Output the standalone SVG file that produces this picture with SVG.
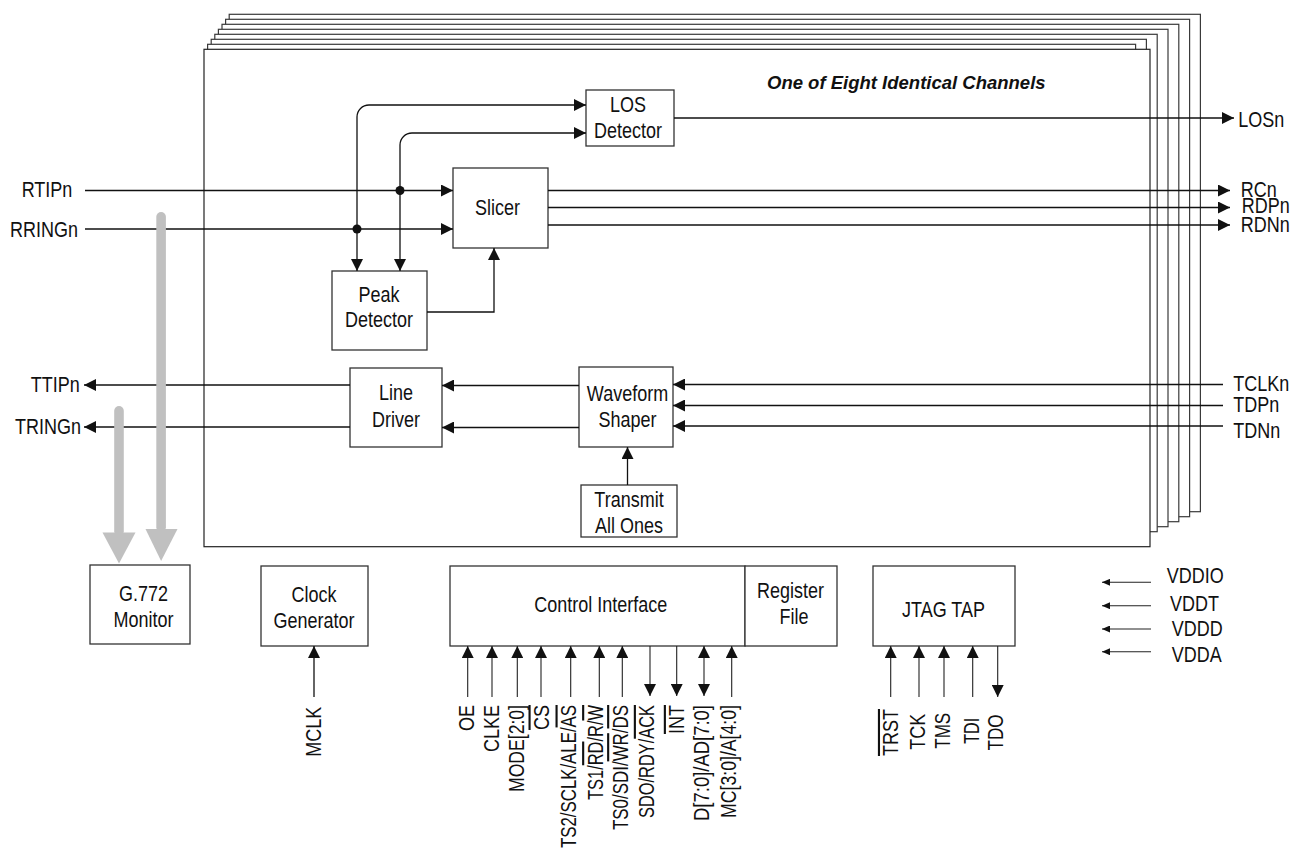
<svg xmlns="http://www.w3.org/2000/svg" width="1299" height="850" viewBox="0 0 1299 850">
<defs>
<style>
.ch{fill:#fff;stroke:#3a3a3a;stroke-width:1.2}
.box{fill:#fff;stroke:#333;stroke-width:1.3}
.w{fill:none;stroke:#111;stroke-width:1.3}
.w2{fill:none;stroke:#222;stroke-width:1.1}
.t{font-family:"Liberation Sans",Arial,Helvetica,sans-serif;font-size:18px;fill:#111}
.m{text-anchor:middle}
.e{text-anchor:end}
.ttl{font-family:"Liberation Sans",Arial,Helvetica,sans-serif;font-size:18.5px;font-weight:bold;font-style:italic;fill:#111}
.bar{fill:#c0c0c0}
.dot{fill:#111}
.ol{text-decoration:overline}
</style>
<marker id="ah" markerUnits="userSpaceOnUse" markerWidth="12" markerHeight="12" viewBox="0 0 12 12" refX="12" refY="6" orient="auto-start-reverse">
<path d="M0,0 L12,6 L0,12 z" fill="#111"/>
</marker>
<marker id="sa" markerUnits="userSpaceOnUse" markerWidth="8" markerHeight="7" viewBox="0 0 8 7" refX="8" refY="3.5" orient="auto">
<path d="M0,0 L8,3.5 L0,7 z" fill="#111"/>
</marker>
</defs>
<rect width="1299" height="850" fill="#fff"/>

<g id="channel-stack">
<rect class="ch" x="229.2" y="14.3" width="971.2" height="497.4"/>
<rect class="ch" x="225.6" y="19.3" width="964" height="497.4"/>
<rect class="ch" x="222" y="24.3" width="956.8" height="497.4"/>
<rect class="ch" x="218.4" y="29.3" width="949.6" height="497.4"/>
<rect class="ch" x="214.8" y="34.3" width="942.4" height="497.4"/>
<rect class="ch" x="211.2" y="39.3" width="935.2" height="497.4"/>
<rect class="ch" x="207.6" y="44.3" width="928" height="497.4"/>
<rect class="ch" x="204" y="49.3" width="946" height="497.4" style="stroke:#222"/>
<text class="ttl" x="767" y="89">One of Eight Identical Channels</text>
</g>

<g id="los-detector">
<rect class="box" x="586" y="90" width="88" height="56"/>
<text class="t m" transform="translate(628,111.7) scale(1,1.18)">LOS</text>
<text class="t m" transform="translate(628,138.3) scale(1,1.18)">Detector</text>
</g>

<g id="slicer">
<rect class="box" x="453" y="168" width="95" height="80"/>
<text class="t m" transform="translate(497.5,215) scale(1,1.18)">Slicer</text>
</g>

<g id="peak-detector">
<rect class="box" x="332" y="271" width="95" height="79"/>
<text class="t m" transform="translate(379,301.7) scale(1,1.18)">Peak</text>
<text class="t m" transform="translate(379,326.7) scale(1,1.18)">Detector</text>
</g>

<g id="line-driver">
<rect class="box" x="350" y="368" width="92" height="79"/>
<text class="t m" transform="translate(396,400) scale(1,1.18)">Line</text>
<text class="t m" transform="translate(396,427.3) scale(1,1.18)">Driver</text>
</g>

<g id="waveform-shaper">
<rect class="box" x="579" y="367" width="94" height="80"/>
<text class="t m" transform="translate(627.5,401) scale(1,1.18)">Waveform</text>
<text class="t m" transform="translate(627.5,427.3) scale(1,1.18)">Shaper</text>
</g>

<g id="transmit-all-ones">
<rect class="box" x="581" y="485" width="96" height="52"/>
<text class="t m" transform="translate(629,506.7) scale(1,1.18)">Transmit</text>
<text class="t m" transform="translate(629,532.7) scale(1,1.18)">All Ones</text>
</g>

<g id="g772-monitor">
<rect class="box" x="90" y="565" width="100" height="79"/>
<text class="t m" transform="translate(143.5,600.7) scale(1,1.18)">G.772</text>
<text class="t m" transform="translate(143.5,627.3) scale(1,1.18)">Monitor</text>
</g>

<g id="clock-generator">
<rect class="box" x="261" y="566" width="107" height="80"/>
<text class="t m" transform="translate(314,602.3) scale(1,1.18)">Clock</text>
<text class="t m" transform="translate(314,628.3) scale(1,1.18)">Generator</text>
</g>

<g id="control-interface">
<rect class="box" x="450" y="566" width="295" height="80"/>
<text class="t m" transform="translate(600.8,612) scale(1,1.18)">Control Interface</text>
</g>

<g id="register-file">
<rect class="box" x="745" y="566" width="92" height="80"/>
<text class="t m" transform="translate(790.5,598) scale(1,1.18)">Register</text>
<text class="t m" transform="translate(794,624) scale(1,1.18)">File</text>
</g>

<g id="jtag-tap">
<rect class="box" x="873" y="566" width="142" height="80"/>
<text class="t m" transform="translate(943.5,617.3) scale(1,1.18)">JTAG TAP</text>
</g>

<g id="connectors">
<path class="w" d="M85,190.5 H453" marker-end="url(#ah)"/>
<path class="w" d="M85,229 H453" marker-end="url(#ah)"/>
<path class="w" d="M357,271 V117 A12,12 0 0 1 369,105 H586" marker-start="url(#ah)" marker-end="url(#ah)"/>
<path class="w" d="M400,271 V145 A12,12 0 0 1 412,133 H586" marker-start="url(#ah)" marker-end="url(#ah)"/>
<circle class="dot" cx="400" cy="190.5" r="4.5"/>
<circle class="dot" cx="357" cy="229" r="4.5"/>
<path class="w" d="M427,312 H494 V248" marker-end="url(#ah)"/>
<path class="w" d="M674,118 H1234" marker-end="url(#ah)"/>
<path class="w" d="M548,190.5 H1230" marker-end="url(#ah)"/>
<path class="w" d="M548,207.5 H1230" marker-end="url(#ah)"/>
<path class="w" d="M548,225 H1230" marker-end="url(#ah)"/>
<path class="w" d="M1223,384.5 H673" marker-end="url(#ah)"/>
<path class="w" d="M1223,405.5 H673" marker-end="url(#ah)"/>
<path class="w" d="M1223,426 H673" marker-end="url(#ah)"/>
<path class="w" d="M579,385.5 H442" marker-end="url(#ah)"/>
<path class="w" d="M579,427.5 H442" marker-end="url(#ah)"/>
<path class="w" d="M350,385 H84" marker-end="url(#ah)"/>
<path class="w" d="M350,427 H84" marker-end="url(#ah)"/>
<path class="w" d="M627.5,485 V447" marker-end="url(#ah)"/>
<path class="w" d="M314,697 V646" marker-end="url(#ah)"/>
<path class="w2" d="M467.7,697 V646" marker-end="url(#ah)"/>
<path class="w2" d="M492,697 V646" marker-end="url(#ah)"/>
<path class="w2" d="M517.3,697 V646" marker-end="url(#ah)"/>
<path class="w2" d="M541,697 V646" marker-end="url(#ah)"/>
<path class="w2" d="M570.7,697 V646" marker-end="url(#ah)"/>
<path class="w2" d="M599.3,697 V646" marker-end="url(#ah)"/>
<path class="w2" d="M622.3,697 V646" marker-end="url(#ah)"/>
<path class="w2" d="M650,646 V696" marker-end="url(#ah)"/>
<path class="w2" d="M676.7,646 V696" marker-end="url(#ah)"/>
<path class="w2" d="M704,696 V646" marker-start="url(#ah)" marker-end="url(#ah)"/>
<path class="w2" d="M731.7,697 V646" marker-end="url(#ah)"/>
<path class="w2" d="M890.7,697 V646" marker-end="url(#ah)"/>
<path class="w2" d="M919,697 V646" marker-end="url(#ah)"/>
<path class="w2" d="M944,697 V646" marker-end="url(#ah)"/>
<path class="w2" d="M972.7,697 V646" marker-end="url(#ah)"/>
<path class="w2" d="M997.7,646 V697" marker-end="url(#ah)"/>
<path class="w2" d="M1151,582.3 H1102" marker-end="url(#sa)"/>
<path class="w2" d="M1151,605.7 H1102" marker-end="url(#sa)"/>
<path class="w2" d="M1151,629 H1102" marker-end="url(#sa)"/>
<path class="w2" d="M1151,651.7 H1102" marker-end="url(#sa)"/>
</g>

<g id="monitor-bars">
<rect class="bar" x="156.3" y="212" width="9.6" height="320" rx="4.8"/>
<path class="bar" d="M145.5,529 H177.5 L161.1,561 z"/>
<rect class="bar" x="114.2" y="406" width="9.6" height="130" rx="4.8"/>
<path class="bar" d="M102.5,532.5 H135.5 L119,563.5 z"/>
</g>

<g id="port-labels">
<text class="t" transform="translate(21.7,196.7) scale(1,1.18)">RTIPn</text>
<text class="t" transform="translate(10,236.7) scale(1,1.18)">RRINGn</text>
<text class="t" transform="translate(30.7,391.7) scale(1,1.18)">TTIPn</text>
<text class="t" transform="translate(15,434) scale(1,1.18)">TRINGn</text>
<text class="t" transform="translate(1238.3,127.3) scale(1,1.18)">LOSn</text>
<text class="t" transform="translate(1240.7,197.3) scale(1,1.18)">RCn</text>
<text class="t" transform="translate(1241.7,213.3) scale(1,1.18)">RDPn</text>
<text class="t" transform="translate(1240.7,231.7) scale(1,1.18)">RDNn</text>
<text class="t" transform="translate(1233.3,390.7) scale(1,1.18)">TCLKn</text>
<text class="t" transform="translate(1233.3,411.7) scale(1,1.18)">TDPn</text>
<text class="t" transform="translate(1233.3,437.7) scale(1,1.18)">TDNn</text>
<text class="t" transform="translate(1166.7,583.3) scale(1,1.18)">VDDIO</text>
<text class="t" transform="translate(1170,610.7) scale(1,1.18)">VDDT</text>
<text class="t" transform="translate(1171.7,635.7) scale(1,1.18)">VDDD</text>
<text class="t" transform="translate(1171.7,661.7) scale(1,1.18)">VDDA</text>
<text class="t e" transform="translate(321,706.7) rotate(-90) scale(1,1.18)">MCLK</text>
<text class="t e" transform="translate(474.3,705) rotate(-90) scale(1,1.18)">OE</text>
<text class="t e" transform="translate(499.3,705) rotate(-90) scale(1,1.18)">CLKE</text>
<text class="t e" transform="translate(524.3,705) rotate(-90) scale(1,1.18)" textLength="87" lengthAdjust="spacingAndGlyphs">MODE[2:0]</text>
<text class="t e" transform="translate(549,705) rotate(-90) scale(1,1.18)"><tspan class="ol">CS</tspan></text>
<text class="t e" transform="translate(576,705) rotate(-90) scale(1,1.18)" textLength="143" lengthAdjust="spacingAndGlyphs">TS2/SCLK/ALE/<tspan class="ol">AS</tspan></text>
<text class="t e" transform="translate(602.6,705) rotate(-90) scale(1,1.18)" textLength="95" lengthAdjust="spacingAndGlyphs">TS1/<tspan class="ol">RD</tspan>/R/<tspan class="ol">W</tspan></text>
<text class="t e" transform="translate(627.6,705) rotate(-90) scale(1,1.18)" textLength="125" lengthAdjust="spacingAndGlyphs">TS0/SDI/<tspan class="ol">WR</tspan>/<tspan class="ol">DS</tspan></text>
<text class="t e" transform="translate(654.3,705) rotate(-90) scale(1,1.18)" textLength="113" lengthAdjust="spacingAndGlyphs">SDO/RDY/<tspan class="ol">ACK</tspan></text>
<text class="t e" transform="translate(684.3,705) rotate(-90) scale(1,1.18)"><tspan class="ol">INT</tspan></text>
<text class="t e" transform="translate(709.3,705) rotate(-90) scale(1,1.18)" textLength="116" lengthAdjust="spacingAndGlyphs">D[7:0]/AD[7:0]</text>
<text class="t e" transform="translate(736,705) rotate(-90) scale(1,1.18)" textLength="113" lengthAdjust="spacingAndGlyphs">MC[3:0]/A[4:0]</text>
<text class="t m" transform="translate(898.4,732.5) rotate(-90) scale(1,1.18)"><tspan class="ol">TRST</tspan></text>
<text class="t m" transform="translate(925,731.7) rotate(-90) scale(1,1.18)">TCK</text>
<text class="t m" transform="translate(950,730.8) rotate(-90) scale(1,1.18)" textLength="36" lengthAdjust="spacingAndGlyphs">TMS</text>
<text class="t m" transform="translate(978.6,730.8) rotate(-90) scale(1,1.18)" textLength="26" lengthAdjust="spacingAndGlyphs">TDI</text>
<text class="t m" transform="translate(1003.4,732.5) rotate(-90) scale(1,1.18)" textLength="36" lengthAdjust="spacingAndGlyphs">TDO</text>
</g>
</svg>
